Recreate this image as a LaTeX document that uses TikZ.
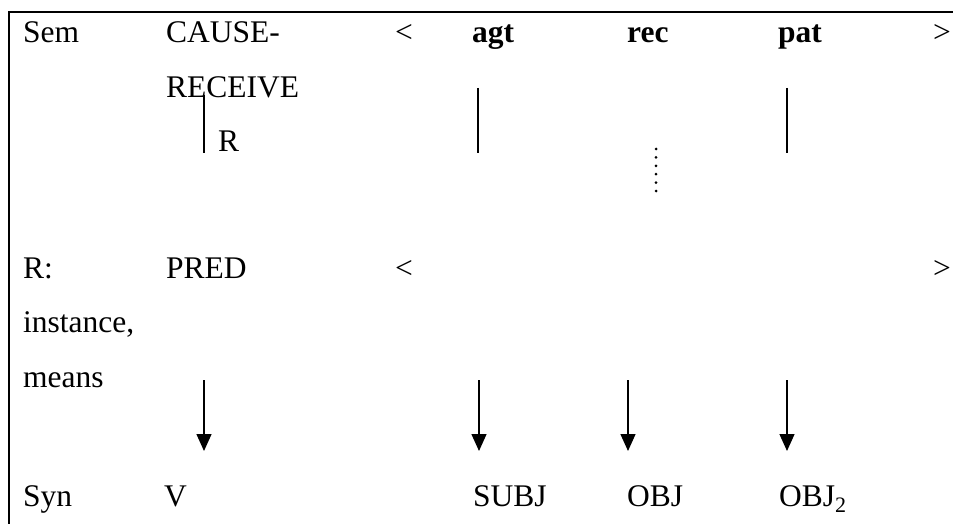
\documentclass[tikz,border=0pt]{standalone}
\usepackage{fontspec}
\setmainfont{Liberation Serif}
\usetikzlibrary{arrows.meta,positioning}
\tikzset{
  word/.style={anchor=base west, inner sep=0pt, font=\fontsize{31.5}{36}\selectfont},
  brack/.style={word, anchor=base},
  role/.style={word, font=\fontsize{31.5}{36}\selectfont\bfseries},
  link/.style={line width=1.3pt},
  dots/.style={line width=3pt, line cap=round, dash pattern=on 0pt off 8.4pt},
  synarrow/.style={line width=1.4pt, -{Triangle[length=17pt,width=15pt]}},
}
\begin{document}
\begin{tikzpicture}[x=1pt, y=-1pt]
        \useasboundingbox (0,0) rectangle (953,524);
        \draw[line width=2pt] (953,12) -- (9,12) -- (9,524);

        % semantic level
        \node[word] (sem) at (23,43) {Sem};
        \node[word] (cause) at (166,43) {CAUSE-};
        \node[word] (receive) at (166,98) {RECEIVE};
        \node[brack] (semopen) at (404,43) {<};
        \node[role] (agt) at (472,43) {agt};
        \node[role] (rec) at (627,43) {rec};
        \node[role] (pat) at (778,43) {pat};
        \node[brack] (semclose) at (942,43) {>};
        \node[word] (rlabel) at (218,152) {R};

        \coordinate (rtop) at (204,95);   \coordinate (rbot) at (204,153);
        \coordinate (agttop) at (478,88); \coordinate (agtbot) at (478,153);
        \coordinate (pattop) at (787,88); \coordinate (patbot) at (787,153);
        \coordinate (rectop) at (656,149); \coordinate (recbot) at (656,191.5);
        \draw[link] (rtop) -- (rbot);
        \draw[link] (agttop) -- (agtbot);
        \draw[link] (pattop) -- (patbot);
        \draw[dots] (rectop) -- (recbot);

        % R level
        \node[word] (rcolon) at (23,278) {R:};
        \node[word] (instance) at (23,332) {instance,};
        \node[word] (means) at (23,387) {means};
        \node[word] (pred) at (166,278) {PRED};
        \node[brack] (ropen) at (404,278) {<};
        \node[brack] (rclose) at (942,278) {>};

        % syntactic level
        \node[word] (syn) at (23,506) {Syn};
        \node[word] (v) at (164,506) {V};
        \node[word] (subj) at (473,506) {SUBJ};
        \node[word] (obj) at (627,506) {OBJ};
        \node[word] (objtwo) at (779,506) {OBJ\textsubscript{2}};

        \foreach \x/\n in {204/v, 479/subj, 628/obj, 787/objtwo} {
          \coordinate (\n top) at (\x,380);
          \coordinate (\n tip) at (\x,451);
          \draw[synarrow] (\n top) -- (\n tip);
        }
\end{tikzpicture}
\end{document}
